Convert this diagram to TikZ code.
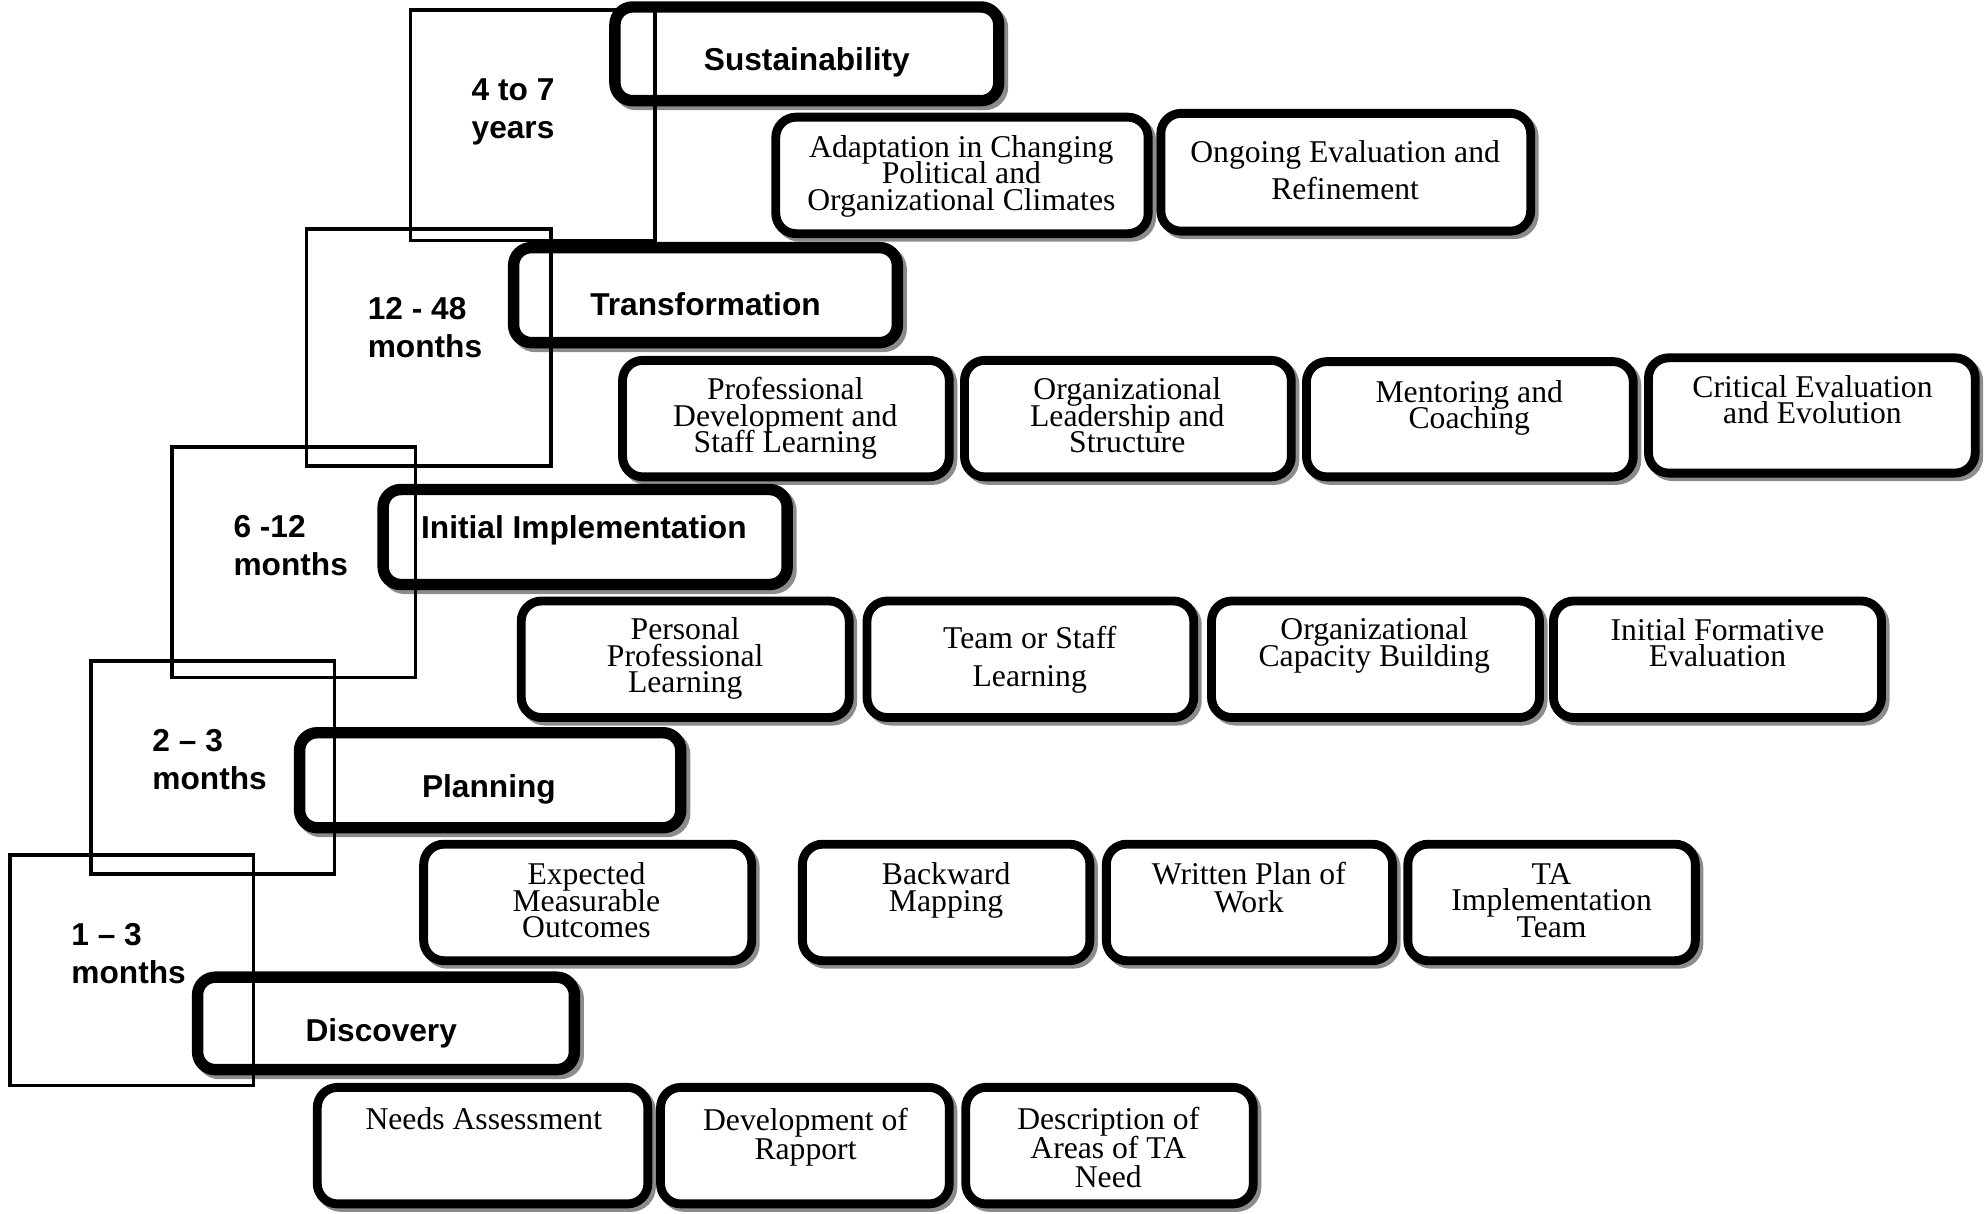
\documentclass[tikz,border=0pt]{standalone}
\usepackage{fontspec}
\setmainfont{Liberation Serif}
\newfontfamily\arialfont{Liberation Sans}
\usetikzlibrary{fit}
\newcommand\subfont[1]{\rmfamily\fontsize{12.5pt}{#1}\selectfont\lineskiplimit=-20pt\lineskip=0pt\relax}
\tikzset{
  phase/.style={draw=black, fill=white, line width=4.5pt, rounded corners=7pt, inner sep=0pt,
    preaction={draw=black!45, line width=4.5pt, transform canvas={xshift=1.5pt, yshift=-1.5pt}}},
  sub/.style={draw=black, fill=white, line width=3.5pt, rounded corners=8pt, inner sep=0pt,
    preaction={draw=black!45, line width=3.5pt, transform canvas={xshift=1.4pt, yshift=-1.4pt}}},
  timebox/.style={draw=black, line width=1.4pt, inner sep=0pt},
  phasetext/.style={font=\arialfont\bfseries\fontsize{12.5pt}{15pt}\selectfont, inner sep=0pt},
  timetext/.style={font=\arialfont\bfseries\fontsize{12.5pt}{15pt}\selectfont, align=left, anchor=west, inner sep=0pt},
  subtext/.style={font={\subfont{#1}}, align=center, inner sep=0pt},
  subtext/.default=10.5pt
}
\begin{document}
\begin{tikzpicture}[x=0.5pt,y=-0.5pt]
\useasboundingbox (0,0) rectangle (1568,958);
% sub boxes
\node[sub, fit={(612.5,92.5) (906.5,184.5)}] (adapt) {};
\node[sub, fit={(916.5,89.5) (1208.5,182.5)}] (ongoing) {};
\node[sub, fit={(491.5,284.5) (749.5,376.5)}] (profdev) {};
\node[sub, fit={(761.5,284.5) (1019.5,376.5)}] (orglead) {};
\node[sub, fit={(1031.5,285.5) (1289.5,376.5)}] (mentor) {};
\node[sub, fit={(1301.5,282.5) (1559.5,373.5)}] (critical) {};
\node[sub, fit={(411.5,474.5) (670.5,566.5)}] (personal) {};
\node[sub, fit={(684.5,474.5) (942.5,566.5)}] (team) {};
\node[sub, fit={(956.5,474.5) (1215.5,566.5)}] (orgcap) {};
\node[sub, fit={(1226.5,474.5) (1485.5,566.5)}] (initform) {};
\node[sub, fit={(334.5,666.5) (593.5,758.5)}] (expected) {};
\node[sub, fit={(633.5,666.5) (860.5,758.5)}] (backward) {};
\node[sub, fit={(873.5,666.5) (1099.5,758.5)}] (written) {};
\node[sub, fit={(1111.5,666.5) (1338.5,758.5)}] (ta) {};
\node[sub, fit={(250.5,858.5) (511.5,950.5)}] (needs) {};
\node[sub, fit={(521.5,858.5) (749.5,950.5)}] (rapport) {};
\node[sub, fit={(762.5,858.5) (989.5,950.5)}] (descr) {};
% phase boxes
\node[phase, fit={(485.5,5.5) (788.5,79.5)}] (sus) {};
\node[phase, fit={(405.5,195.5) (708.5,270.5)}] (tra) {};
\node[phase, fit={(302.5,386.5) (621.5,461.5)}] (ini) {};
\node[phase, fit={(236.5,578.5) (537.5,653.5)}] (pla) {};
\node[phase, fit={(156,771.5) (453.5,844.5)}] (dis) {};
% time boxes
\node[timebox, fit={(324,8) (517,190)}] (t1) {};
\node[timebox, fit={(242,181) (435,368)}] (t2) {};
\node[timebox, fit={(136,353) (328,535)}] (t3) {};
\node[timebox, fit={(72,522) (264,690)}] (t4) {};
\node[timebox, fit={(8,675) (200,857)}] (t5) {};
% time texts
\node[timetext] (t1t) at (372,88) {4 to 7\\years};
\node[timetext] (t2t) at (290,259) {12 - 48\\months};
\node[timetext] (t3t) at (184,431) {6 -12\\months};
\node[timetext] (t4t) at (120,600) {2 – 3\\months};
\node[timetext] (t5t) at (56,753) {1 – 3\\months};
% phase texts
\node[phasetext] (sust) at (637,49) {Sustainability};
\node[phasetext] (trat) at (557,240) {Transformation};
\node[phasetext] (init) at (461,419) {Initial Implementation};
\node[phasetext] (plat) at (386,623) {Planning};
\node[phasetext] (dist) at (301,816) {Discovery};
% sub texts
\node[subtext] (adaptt) at (759,139) {Adaptation in Changing\\Political and\\Organizational Climates};
\node[subtext=14.5pt] (ongoingt) at (1062,134.5) {Ongoing Evaluation and\\Refinement};
\node[subtext] (profdevt) at (620,330.5) {Professional\\Development and\\Staff Learning};
\node[subtext] (orgleadt) at (890,328) {Organizational\\Leadership and\\Structure};
\node[subtext=10pt] (mentort) at (1160,322) {Mentoring and\\Coaching};
\node[subtext] (criticalt) at (1431,315.5) {Critical Evaluation\\and Evolution};
\node[subtext] (personalt) at (541,520) {Personal\\Professional\\Learning};
\node[subtext=15pt] (teamt) at (813,521) {Team or Staff\\Learning};
\node[subtext] (orgcapt) at (1085,509.5) {Organizational\\Capacity Building};
\node[subtext] (initformt) at (1356,507.5) {Initial Formative\\Evaluation};
\node[subtext] (expectedt) at (463,711) {Expected\\Measurable\\Outcomes};
\node[subtext=11pt] (backwardt) at (747,703) {Backward\\Mapping};
\node[subtext=11pt] (writtent) at (986,701) {Written Plan of\\Work};
\node[subtext] (tat) at (1225,711) {TA\\Implementation\\Team};
\node[subtext] (needst) at (382,883) {Needs Assessment};
\node[subtext=11.5pt] (rapportt) at (636,898) {Development of\\Rapport};
\node[subtext=11.5pt] (descrt) at (875,906) {Description of\\Areas of TA\\Need};
\end{tikzpicture}
\end{document}
